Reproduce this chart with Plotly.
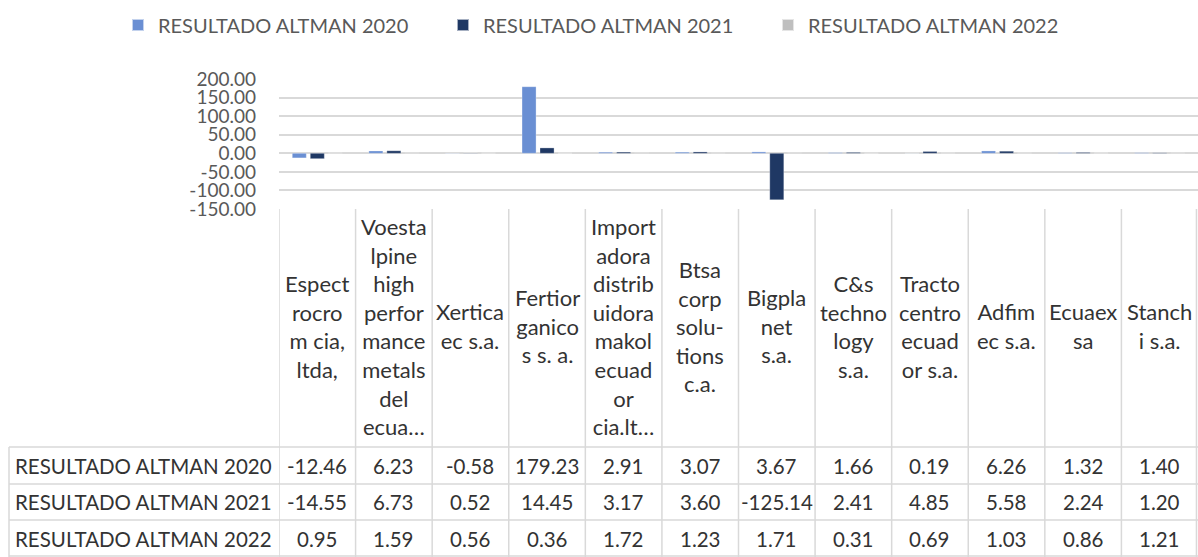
import plotly.graph_objects as go

categories = [
    "Espectrocrom cia, ltda,",
    "Voestalpine high performance metals del ecuador",
    "Xerticaec s.a.",
    "Fertiorganicos s. a.",
    "Importadora distribuidora makol ecuador cia.ltda.",
    "Btsa corp solutions c.a.",
    "Bigplanet s.a.",
    "C&s technology s.a.",
    "Tractocentro ecuador s.a.",
    "Adfimec s.a.",
    "Ecuaexsa",
    "Stanchi s.a.",
]
header_labels = [
    ["Espect", "rocro", "m cia,", "ltda,"],
    ["Voesta", "lpine", "high", "perfor", "mance", "metals", "del", "ecua…"],
    ["Xertica", "ec s.a."],
    ["Fertior", "ganico", "s s. a."],
    ["Import", "adora", "distrib", "uidora", "makol", "ecuad", "or", "cia.lt…"],
    ["Btsa", "corp", "solu-", "tions", "c.a."],
    ["Bigpla", "net", "s.a."],
    ["C&s", "techno", "logy", "s.a."],
    ["Tracto", "centro", "ecuad", "or s.a."],
    ["Adfim", "ec s.a."],
    ["Ecuaex", "sa"],
    ["Stanch", "i s.a."],
]
series_names = ["RESULTADO ALTMAN 2020", "RESULTADO ALTMAN 2021", "RESULTADO ALTMAN 2022"]
altman_2020 = [-12.46, 6.23, -0.58, 179.23, 2.91, 3.07, 3.67, 1.66, 0.19, 6.26, 1.32, 1.40]
altman_2021 = [-14.55, 6.73, 0.52, 14.45, 3.17, 3.60, -125.14, 2.41, 4.85, 5.58, 2.24, 1.20]
altman_2022 = [0.95, 1.59, 0.56, 0.36, 1.72, 1.23, 1.71, 0.31, 0.69, 1.03, 0.86, 1.21]
y_ticks = [200, 150, 100, 50, 0, -50, -100, -150]

series_values = [altman_2020, altman_2021, altman_2022]
colors = ["#6A8FD3", "#1F3864", "#BFBFBF"]

W, H = 1198, 557
FONT = "Lato"
TEXT = "#333333"
AXIS_TEXT = "#595959"
GRID = "#D9D9D9"

# layout constants (pixels)
plot_left = 279
plot_top = 79
table_top = 209
row_lines = [447, 484, 520, 557]
table_left = 9


def py(p):
    return 1 - p / H


fig = go.Figure()
for name, vals, col in zip(series_names, series_values, colors):
    fig.add_trace(go.Bar(
        x=categories, y=vals, name=name,
        marker=dict(color=col, line=dict(color="rgba(255,255,255,0.6)", width=0.5)),
    ))

shapes = []
annotations = []

# vertical table lines
for i in range(len(categories) + 1):
    xv = i - 0.5 if i < len(categories) else len(categories) - 0.52
    shapes.append(dict(type="line", xref="x", yref="paper", x0=xv, x1=xv,
                       y0=0, y1=py(table_top), line=dict(color=GRID, width=1.5)))
# left border of data rows
shapes.append(dict(type="line", xref="paper", yref="paper", x0=table_left / W, x1=table_left / W,
                   y0=0, y1=py(row_lines[0]), line=dict(color=GRID, width=1.5)))
# horizontal table lines
for r in row_lines:
    yy = py(min(r, H - 1))
    shapes.append(dict(type="line", xref="paper", yref="paper", x0=table_left / W, x1=1,
                       y0=yy, y1=yy, line=dict(color=GRID, width=1.5)))

# header cells
header_center = py((table_top + row_lines[0]) / 2 - 2)
for cat, lines in zip(categories, header_labels):
    annotations.append(dict(x=cat, xref="x", y=header_center, yref="paper",
                            text="<br>".join(lines), showarrow=False, align="center",
                            xanchor="center", yanchor="middle",
                            font=dict(family=FONT, size=22, color=TEXT)))

# data rows
for ri, (name, vals) in enumerate(zip(series_names, series_values)):
    yc = py((row_lines[ri] + row_lines[ri + 1]) / 2)
    annotations.append(dict(x=(table_left + 4) / W, xref="paper", y=yc, yref="paper",
                            text=name, showarrow=False, xanchor="left", yanchor="middle",
                            font=dict(family=FONT, size=20.5, color=TEXT)))
    for cat, v in zip(categories, vals):
        annotations.append(dict(x=cat, xref="x", y=yc, yref="paper",
                                text=f"{v:.2f}", showarrow=False, xanchor="center",
                                yanchor="middle", font=dict(family=FONT, size=20.5, color=TEXT)))

fig.update_layout(
    width=W, height=H, autosize=False,
    margin=dict(l=0, r=0, t=0, b=0),
    paper_bgcolor="white", plot_bgcolor="white",
    barmode="group", bargap=0.295, bargroupgap=0.22,
    font=dict(family=FONT, color=AXIS_TEXT),
    showlegend=True,
    legend=dict(orientation="h", x=118 / W, xanchor="left", y=py(25), yanchor="middle",
                font=dict(family=FONT, size=20, color=AXIS_TEXT),
                entrywidth=280, entrywidthmode="pixels", traceorder="normal",
                itemsizing="constant"),
    xaxis=dict(domain=[plot_left / W, 1], range=[-0.5, len(categories) - 0.5],
               showticklabels=False, showgrid=False, zeroline=False, showline=False,
               fixedrange=True),
    yaxis=dict(domain=[py(table_top), py(plot_top)], range=[-150, 200],
               tickvals=y_ticks, ticktext=[f"{v:.2f}" for v in y_ticks],
               tickfont=dict(family=FONT, size=19, color=AXIS_TEXT),
               showgrid=True, gridcolor=GRID, gridwidth=1.5,
               zeroline=True, zerolinecolor=GRID, zerolinewidth=1.5,
               showline=False, ticks="", ticklabelstandoff=22, automargin=False),
    shapes=shapes, annotations=annotations,
)

fig.write_html("out.html", config={"displayModeBar": False},
               post_script="document.body.style.margin='0px';")
